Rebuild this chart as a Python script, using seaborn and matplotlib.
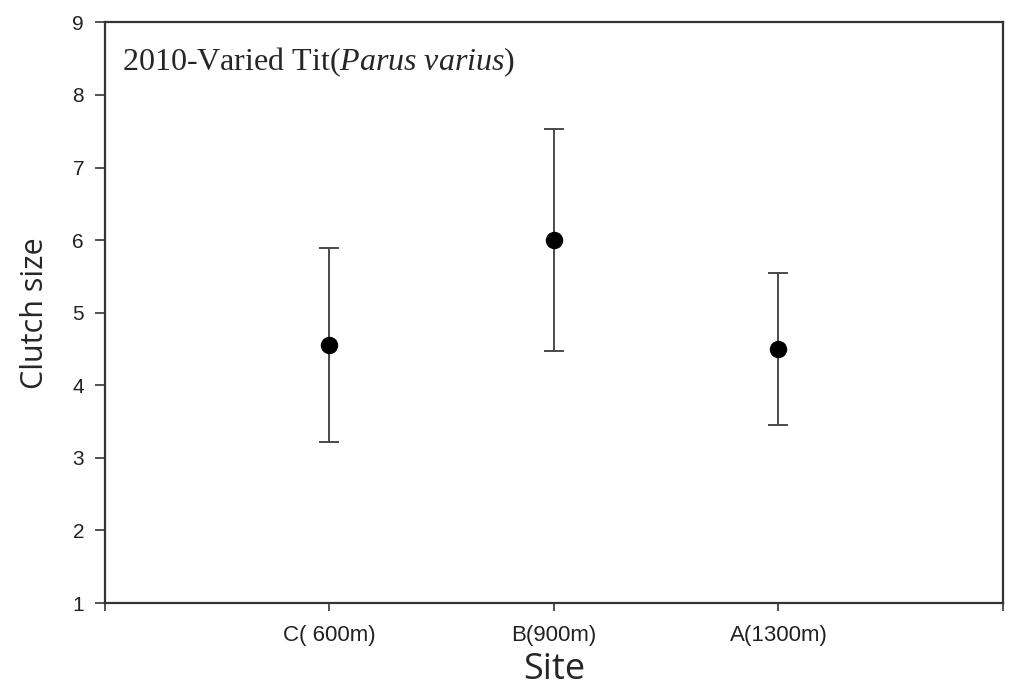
import numpy as np
import pandas as pd
import matplotlib
matplotlib.use("Agg")
import matplotlib.pyplot as plt
import seaborn as sns

# ============================================================
# Data : clutch size by site (mean with error bar limits)
# ============================================================

sites = ["C( 600m)", "B(900m)", "A(1300m)"]
positions = [1, 2, 3]
clutch_mean = [4.56, 6.00, 4.50]
clutch_low = [3.22, 4.47, 3.45]
clutch_high = [5.89, 7.53, 5.55]

df = pd.DataFrame({
    "Site": sites,
    "pos": positions,
    "mean": clutch_mean,
    "low": clutch_low,
    "high": clutch_high,
})

# ============================================================
# Style
# ============================================================

sns.set_style("ticks")
plt.rcParams["font.family"] = ["Liberation Sans", "DejaVu Sans"]
plt.rcParams["mathtext.fontset"] = "custom"
plt.rcParams["mathtext.rm"] = "Liberation Serif"
plt.rcParams["mathtext.it"] = "Liberation Serif:italic"

fig = plt.figure(figsize=(10.09, 6.98), dpi=100)
ax = fig.add_axes([0.104, 0.136, 0.89, 0.832])

# ============================================================
# Error bars + mean points
# ============================================================

ax.errorbar(
    df["pos"], df["mean"],
    yerr=[df["mean"] - df["low"], df["high"] - df["mean"]],
    fmt="none", ecolor="#4a4a4a", elinewidth=1.4,
    capsize=7, capthick=1.4, zorder=2
)

sns.scatterplot(
    x="pos", y="mean", data=df, ax=ax,
    color="black", s=135, edgecolor="black", zorder=3, legend=False
)

# ============================================================
# Axes
# ============================================================

ax.set_xlim(0, 4)
ax.set_ylim(1, 9)
ax.set_xticks([0, 1, 2, 3, 4])
ax.set_xticklabels([""] + sites + [""], fontsize=16)
ax.set_yticks(range(1, 10))
ax.tick_params(axis="y", labelsize=15, length=7, width=1.3, color="#444444", pad=8)
ax.tick_params(axis="x", length=6, width=1.3, color="#444444", pad=10)
for lbl in ax.get_xticklabels() + ax.get_yticklabels():
    lbl.set_color("#222222")

for side in ["left", "right", "top", "bottom"]:
    ax.spines[side].set_visible(True)
    ax.spines[side].set_linewidth(1.6)
    ax.spines[side].set_color("#333333")

ax.set_xlabel("Site", fontsize=26, family=["Open Sans", "DejaVu Sans"], labelpad=4)
ax.set_ylabel("Clutch size", fontsize=22, family=["Open Sans", "DejaVu Sans"], labelpad=16)

ax.text(
    0.019, 0.917,
    r"2010-Varied Tit($\mathit{Parus\ varius}$)",
    transform=ax.transAxes, fontsize=23,
    family=["Liberation Serif", "DejaVu Serif"], va="baseline", ha="left"
)

plt.savefig("out.png", dpi=100)
